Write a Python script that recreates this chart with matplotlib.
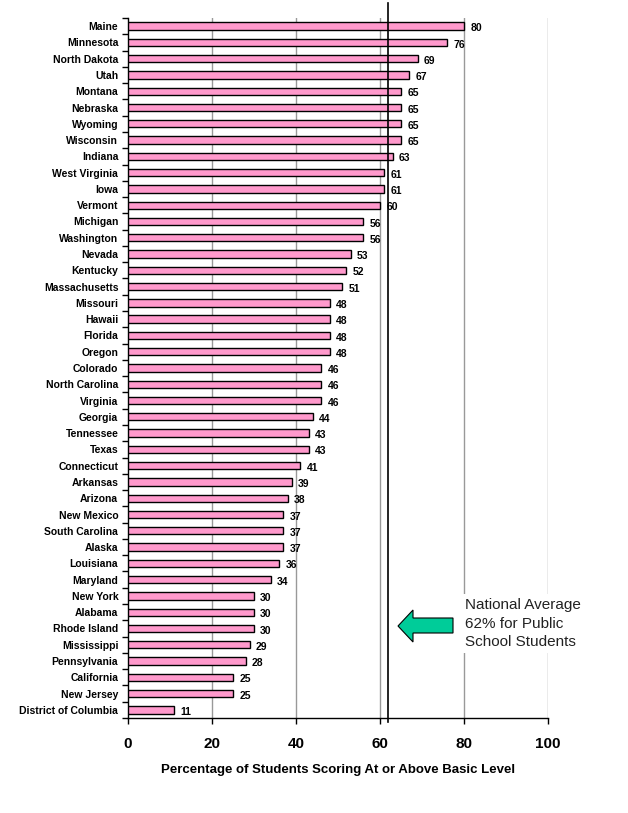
import matplotlib
matplotlib.use("Agg")
import matplotlib.pyplot as plt
from matplotlib.patches import Polygon
import numpy as np

states = ["Maine", "Minnesota", "North Dakota", "Utah", "Montana", "Nebraska",
          "Wyoming", "Wisconsin", "Indiana", "West Virginia", "Iowa", "Vermont",
          "Michigan", "Washington", "Nevada", "Kentucky", "Massachusetts",
          "Missouri", "Hawaii", "Florida", "Oregon", "Colorado", "North Carolina",
          "Virginia", "Georgia", "Tennessee", "Texas", "Connecticut", "Arkansas",
          "Arizona", "New Mexico", "South Carolina", "Alaska", "Louisiana",
          "Maryland", "New York", "Alabama", "Rhode Island", "Mississippi",
          "Pennsylvania", "California", "New Jersey", "District of Columbia"]
values = [80, 76, 69, 67, 65, 65, 65, 65, 63, 61, 61, 60, 56, 56, 53, 52, 51,
          48, 48, 48, 48, 46, 46, 46, 44, 43, 43, 41, 39, 38, 37, 37, 37, 36,
          34, 30, 30, 30, 29, 28, 25, 25, 11]
national_avg = 62
x_ticks = [0, 20, 40, 60, 80, 100]
x_label = "Percentage of Students Scoring At or Above Basic Level"
note = "National Average\n62% for Public\nSchool Students"

W, H = 628, 813
fig = plt.figure(figsize=(W / 100, H / 100), dpi=100)
ax = fig.add_axes([128 / W, 1 - 718 / H, 420 / W, 700 / H])

n = len(states)
y = np.arange(n)
ax.barh(y, values, height=0.45, color="#FF99CC", edgecolor="black",
        linewidth=1.0, zorder=3)
ax.set_ylim(n - 0.5, -0.5)
ax.set_xlim(0, 100)

for yi, v in zip(y, values):
    ax.annotate(str(v), (v, yi), xytext=(4.5, -1.5), textcoords="offset points",
                ha="left", va="center", fontsize=7.5, fontweight="bold",
                family="Liberation Sans", zorder=5)

ax.set_yticks(y)
ax.set_yticklabels(states, fontsize=7.5, fontweight="bold", family="Liberation Sans")
ax.tick_params(axis="y", which="major", length=0, pad=7)
ax.set_yticks(np.arange(n + 1) - 0.5, minor=True)
ax.tick_params(axis="y", which="minor", length=4, width=1, direction="out")

ax.set_xticks(x_ticks)
ax.set_xticklabels([str(t) for t in x_ticks], fontsize=11, fontweight="bold",
                   family="Liberation Sans")
ax.tick_params(axis="x", length=4, width=1, direction="out", pad=10)
ax.set_xlabel(x_label, fontsize=9.5, fontweight="bold", family="Liberation Sans",
              labelpad=9)

for t in x_ticks[1:]:
    ax.axvline(t, color="#999999", linewidth=1, zorder=1)

ax.axvline(national_avg, ymin=-0.006, ymax=1.021, color="black", linewidth=1.2,
           clip_on=False, zorder=4)

for s in ["top", "right"]:
    ax.spines[s].set_visible(False)
for s in ["left", "bottom"]:
    ax.spines[s].set_linewidth(1)

# note text with white background
fig.text(465 / W, 1 - 598 / H, note, ha="left", va="top", fontsize=11,
         family="Liberation Sans", color="#222222", linespacing=1.42,
         bbox=dict(facecolor="white", edgecolor="none", pad=3), zorder=6)

pts = [(398, 626), (413, 610), (413, 618), (453, 618), (453, 633), (413, 633), (413, 642)]
arrow = Polygon([(px / W, 1 - py / H) for px, py in pts], closed=True,
                facecolor="#00CC99", edgecolor="black", linewidth=0.8,
                transform=fig.transFigure, zorder=6)
fig.patches.append(arrow)

fig.savefig("out.png", dpi=100)
